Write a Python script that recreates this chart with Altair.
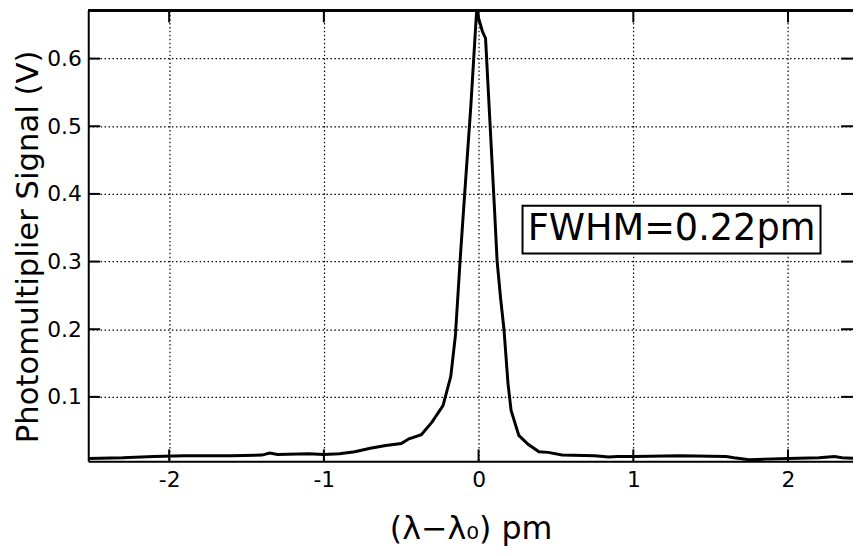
import altair as alt
import pandas as pd

# Curve
wl = [-2.52, -2.3, -2.1, -1.9, -1.6, -1.4, -1.35, -1.3, -1.1, -1.0, -0.9, -0.8, -0.7,
      -0.6, -0.5, -0.45, -0.37, -0.3, -0.23, -0.18, -0.15, -0.12, -0.09, -0.05, -0.013,
      0.025, 0.045, 0.10, 0.12, 0.143, 0.164, 0.19, 0.21, 0.26, 0.32, 0.39, 0.45, 0.54,
      0.75, 0.84, 0.9, 1.0, 1.3, 1.6, 1.65, 1.75, 1.85, 2.0, 2.2, 2.3, 2.35, 2.45]
sig = [0.009, 0.010, 0.012, 0.013, 0.013, 0.014, 0.017, 0.015, 0.016, 0.015, 0.016, 0.019, 0.024,
       0.028, 0.031, 0.038, 0.044, 0.063, 0.087, 0.13, 0.19, 0.30, 0.40, 0.53, 0.67,
       0.64, 0.63, 0.39, 0.30, 0.244, 0.20, 0.12, 0.08, 0.043, 0.03, 0.019, 0.018, 0.014,
       0.013, 0.011, 0.012, 0.012, 0.013, 0.012, 0.010, 0.007, 0.008, 0.009, 0.010, 0.012, 0.010, 0.009]

x_ticks = [-2, -1, 0, 1, 2]
y_ticks = [0.1, 0.2, 0.3, 0.4, 0.5, 0.6]
x_dom = [-2.523, 2.42]
y_dom = [0.0048, 0.671]

label_text = ["FWHM=0.22pm"]
box_x = [0.284, 2.21]
box_y = [0.312, 0.3826]

W, H = 772, 455
FONT = "DejaVu Sans"
TL = 12

curve = pd.DataFrame({"x": wl, "y": sig})
xt = pd.DataFrame({"x": x_ticks})
yt = pd.DataFrame({"y": y_ticks})
box = pd.DataFrame({"x": [box_x[0]], "x2": [box_x[1]], "y": [box_y[0]], "y2": [box_y[1]],
                    "xc": [(box_x[0] + box_x[1]) / 2], "yc": [(box_y[0] + box_y[1]) / 2],
                    "t": label_text})

xs = alt.Scale(domain=x_dom, nice=False, zero=False)
ys = alt.Scale(domain=y_dom, nice=False, zero=False)

grid_style = dict(grid=True, gridColor="black", gridDash=[1.5, 2.5], gridWidth=1.2,
                  gridOpacity=1, tickSize=0, domainColor="black", domainWidth=2,
                  labelFont=FONT, labelFontSize=22, labelColor="black",
                  titleFont=FONT, titleColor="black", titleFontWeight="normal")

line = alt.Chart(curve).mark_line(color="black", strokeWidth=3, clip=True).encode(
    x=alt.X("x:Q", scale=xs,
            axis=alt.Axis(values=x_ticks, labelPadding=8, title="(λ−λ₀) pm",
                          labelExpr="datum.value < 0 ? '-' + abs(datum.value) : '' + datum.value",
                          titleFontSize=32, titlePadding=24, **grid_style)),
    y=alt.Y("y:Q", scale=ys,
            axis=alt.Axis(values=y_ticks, labelPadding=7, format=".1f",
                          title="Photomultiplier Signal (V)", titleFontSize=31,
                          titleX=-60, titleY=238, titleBaseline="middle",
                          titleAngle=270, **grid_style)),
)

rect = alt.Chart(box).mark_rect(fill="white", stroke="black", strokeWidth=2).encode(
    x=alt.X("x:Q", scale=xs), x2="x2", y=alt.Y("y:Q", scale=ys), y2="y2")

txt = alt.Chart(box).mark_text(font=FONT, fontSize=37, color="black",
                               align="center", baseline="middle").encode(
    x=alt.X("xc:Q", scale=xs), y=alt.Y("yc:Q", scale=ys), text="t:N")

tick_l = alt.Chart(yt).mark_rule(color="black", strokeWidth=2).encode(
    y=alt.Y("y:Q", scale=ys), x=alt.value(0), x2=alt.value(TL))
tick_r = alt.Chart(yt).mark_rule(color="black", strokeWidth=2).encode(
    y=alt.Y("y:Q", scale=ys), x=alt.value(W - TL), x2=alt.value(W))
tick_b = alt.Chart(xt).mark_rule(color="black", strokeWidth=2).encode(
    x=alt.X("x:Q", scale=xs), y=alt.value(H - TL), y2=alt.value(H))
tick_t = alt.Chart(xt).mark_rule(color="black", strokeWidth=2).encode(
    x=alt.X("x:Q", scale=xs), y=alt.value(0), y2=alt.value(TL))
top_line = alt.Chart(xt).mark_rule(color="black", strokeWidth=2).encode(
    x=alt.value(0), x2=alt.value(W), y=alt.value(0))

chart = alt.layer(rect, txt, line, tick_l, tick_r, tick_b, tick_t, top_line).properties(
    width=W, height=H,
    autosize=alt.AutoSizeParams(type="none"),
    padding={"left": 81, "top": 0, "right": 0, "bottom": 90},
).configure_view(stroke=None).configure(background="white")

chart.save("out.html", embed_options={"renderer": "svg", "actions": False})
